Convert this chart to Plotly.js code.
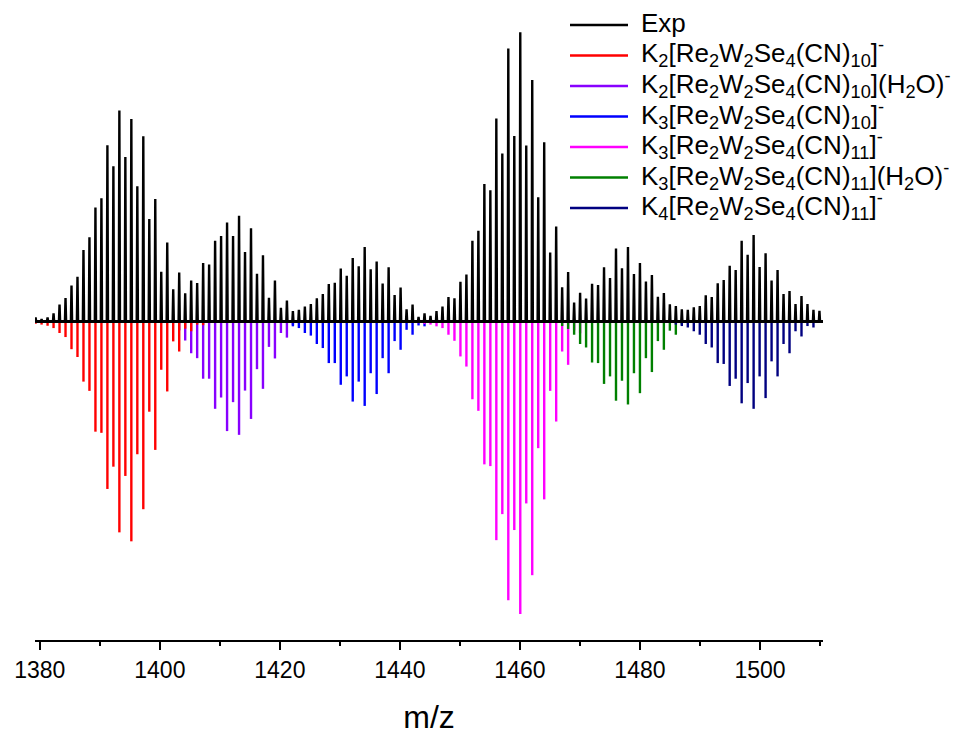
<!DOCTYPE html>
<html><head><meta charset="utf-8">
<script src="https://cdn.plot.ly/plotly-3.0.1.min.js"></script>
<style>body{margin:0;background:#fff}#chart{width:968px;height:737px}</style>
</head><body><div id="chart"></div>
<script>
// isotope peak spacing (m/z) and first experimental peak position
const peakStep = 0.997;
const expStart = 1379.3;
// experimental relative intensities (%), one per isotope peak
const expInt = [1.5,0.9,1.5,2.9,5.9,8.2,12.5,15.5,24.8,29.2,
39.5,42.7,61.0,53.7,73.0,56.9,70.1,46.8,64.1,35.5,
42.4,17.3,27.4,11.2,17.0,9.8,14.2,13.4,20.3,19.8,
28.0,29.6,34.3,29.6,36.6,24.1,32.3,16.6,23.0,8.3,
14.2,4.8,7.3,3.7,4.1,5.2,6.1,8.1,9.6,13.0,
13.5,18.4,15.9,22.0,19.2,25.8,18.1,20.8,13.2,18.8,
9.2,11.8,4.3,5.9,1.7,2.9,2.0,3.7,5.2,8.5,
8.1,13.8,16.3,28.0,31.4,47.6,45.4,70.2,58.1,94.4,
64.2,100,60.9,83.5,43.0,62.0,23.9,32.9,11.9,17.2,
6.6,10.0,8.0,13.1,12.7,18.8,15.1,25.3,18.5,25.8,
16.5,20.3,13.9,16.1,8.6,9.9,6.0,5.4,4.3,4.1,
5.0,5.4,9.1,8.5,13.3,14.4,19.3,17.9,28.0,23.1,
30.0,18.9,23.7,14.2,17.9,9.6,10.6,6.1,8.9,6.1,
4.1,3.8];

// simulated patterns: first peak index (relative to expStart) and intensities
const simNames = [
 "K<sub>2</sub>[Re<sub>2</sub>W<sub>2</sub>Se<sub>4</sub>(CN)<sub>10</sub>]<sup>-</sup>",
 "K<sub>2</sub>[Re<sub>2</sub>W<sub>2</sub>Se<sub>4</sub>(CN)<sub>10</sub>](H<sub>2</sub>O)<sup>-</sup>",
 "K<sub>3</sub>[Re<sub>2</sub>W<sub>2</sub>Se<sub>4</sub>(CN)<sub>10</sub>]<sup>-</sup>",
 "K<sub>3</sub>[Re<sub>2</sub>W<sub>2</sub>Se<sub>4</sub>(CN)<sub>11</sub>]<sup>-</sup>",
 "K<sub>3</sub>[Re<sub>2</sub>W<sub>2</sub>Se<sub>4</sub>(CN)<sub>11</sub>](H<sub>2</sub>O)<sup>-</sup>",
 "K<sub>4</sub>[Re<sub>2</sub>W<sub>2</sub>Se<sub>4</sub>(CN)<sub>11</sub>]<sup>-</sup>"
];
const simColors = ["#ff0000","#8800ff","#0000ff","#ff00ff","#008000","#000080"];
const simFirstPeak = [0, 24, 43, 64, 88, 107];
const simK2 = [0.7,1.0,1.4,2.2,3.9,5.3,9.5,12.2,20.7,23.9,38.0,38.4,57.8,50.1,72.8,53.3,75.9,45.8,64.8,31.1,44.3,16.6,24.1,6.8,10.3,2.4,3.3,1.0,1.2];
const simK2H2O = [3.0,6.5,10.9,12.6,19.7,19.7,30.1,26.2,37.8,27.8,39.1,23.8,33.6,16.4,23.2,8.7,12.7,3.9,5.5,1.2];
const simK3 = [1.6,2.2,3.9,4.8,7.7,9.1,14.3,14.3,21.8,18.9,27.6,20.7,29.1,17.8,25.0,12.6,17.8,6.7,9.7,2.8,4.5,1.3,1.6];
const simK3CN11 = [0.5,0.8,1.0,1.6,2.2,4.5,6.6,12.0,15.5,26.8,30.8,49.3,49.9,75.5,66.5,96.3,72.0,101,62.8,87.6,43.7,61.4,23.9,34.5,10.3,14.9,3.0,4.0];
const simK3CN11H2O = [1.5,2.5,4.5,7.7,8.9,14.1,14.3,21.5,18.9,27.3,20.4,28.6,17.8,24.7,12.6,17.4,6.7,9.7,3.1,4.5,1.0];
const simK4 = [1.0,1.5,2.0,3.3,4.5,7.7,8.9,14.3,14.6,22.2,19.7,28.2,21.2,30.1,18.9,26.4,13.7,18.9,7.7,10.9,3.3,5.1,1.5,2.0];
const simVals = [simK2, simK2H2O, simK3, simK3CN11, simK3CN11H2O, simK4];

const xRange = [1379.2, 1510.5];

function sticks(first, vals){
  const x=[], y=[];
  vals.forEach((v,i)=>{ const m = expStart + (first+i)*peakStep; x.push(m,m,null); y.push(0,-v,null); });
  return {x,y};
}
const traces = [];
const drawOrder = [1,0,2,3,4,5];
drawOrder.forEach(j=>{
  const s = sticks(simFirstPeak[j], simVals[j]);
  traces.push({type:'scatter', mode:'lines', x:s.x, y:s.y, name:simNames[j], showlegend:false,
    line:{color:simColors[j], width:2.4, simplify:false}, hoverinfo:'skip'});
});
// experimental profile
const ex=[xRange[0]], ey=[0];
expInt.forEach((v,i)=>{ const m = expStart + i*peakStep; ex.push(m-0.1,m,m+0.1); ey.push(0,v,0); });
ex.push(xRange[1]); ey.push(0);
traces.push({type:'scatter', mode:'lines', x:ex, y:ey, name:'Exp', showlegend:false,
  line:{color:'#000000', width:2.4, simplify:false}, hoverinfo:'skip'});

// legend (drawn as annotations + line samples, like the original's frameless legend)
const legendNames = ['Exp'].concat(simNames);
const legendColors = ['#000000'].concat(simColors);
const plotL = 35, plotW = 788, plotB = 640, plotH = 625;
const px2x = p => (p - plotL) / plotW, px2y = p => (plotB - p) / plotH;
const shapes = [], annotations = [];
legendNames.forEach((nm, i) => {
  const yy = 25 + i * 30.5;
  shapes.push({type:'line', xref:'paper', yref:'paper', x0:px2x(570), x1:px2x(628), y0:px2y(yy), y1:px2y(yy),
    line:{color:legendColors[i], width:2.5}});
  annotations.push({xref:'paper', yref:'paper', x:px2x(639), y:px2y(yy - 2), xanchor:'left', yanchor:'middle',
    text:nm, showarrow:false, font:{size:26, color:'#000'}});
});

const layout = {
  width:968, height:737,
  margin:{l:35, r:145, t:15, b:97},
  paper_bgcolor:'#fff', plot_bgcolor:'#fff',
  font:{family:'"Liberation Sans", Arial, sans-serif', color:'#000', size:23},
  showlegend:false,
  shapes, annotations,
  xaxis:{range:xRange, showline:true, linecolor:'#000', linewidth:2, mirror:false,
    ticks:'outside', ticklen:8, tickwidth:2, tickcolor:'#000', dtick:20, tick0:1380,
    minor:{dtick:10, ticks:'outside', ticklen:4, tickwidth:2, tickcolor:'#000'},
    showgrid:false, zeroline:false, tickfont:{size:23},
    title:{text:'m/z', font:{size:32}, standoff:24}},
  yaxis:{range:[-110,106], visible:true, showline:false, showticklabels:false, ticks:'',
    showgrid:false, zeroline:true, zerolinecolor:'#000', zerolinewidth:3.2}
};
Plotly.newPlot('chart', traces, layout, {staticPlot:true, displayModeBar:false});
</script></body></html>
